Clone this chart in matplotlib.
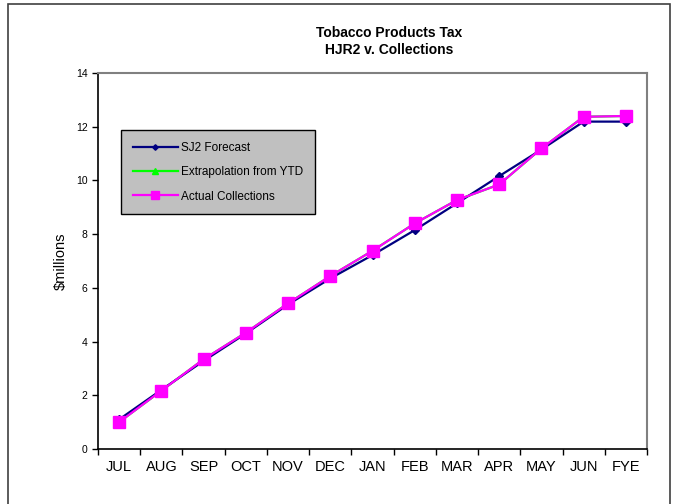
import matplotlib
matplotlib.use("Agg")
import matplotlib.pyplot as plt
from matplotlib.patches import Rectangle

plt.rcParams['font.family'] = ['Liberation Sans', 'DejaVu Sans']

months = ["JUL", "AUG", "SEP", "OCT", "NOV", "DEC", "JAN", "FEB", "MAR", "APR", "MAY", "JUN", "FYE"]
forecast = [1.10, 2.20, 3.28, 4.30, 5.38, 6.35, 7.22, 8.15, 9.15, 10.16, 11.15, 12.19, 12.19]
extrapolation = [1.00, 2.17, 3.34, 4.33, 5.42, 6.44, 7.38, 8.40, 9.27, 9.85, 11.19, 12.37, 12.40]
actual = [1.00, 2.17, 3.34, 4.33, 5.42, 6.44, 7.38, 8.40, 9.27, 9.85, 11.19, 12.37, 12.40]

fig = plt.figure(figsize=(6.81, 5.04), dpi=100)
ax = fig.add_axes([98/681, 1-449/504, (647-98)/681, (449-73)/504])

x = list(range(len(months)))
ax.plot(x, forecast, color="#000080", lw=1.6, marker="D", ms=4, label="SJ2 Forecast", zorder=3)
ax.plot(x, extrapolation, color="#00FF00", lw=1.6, marker="^", ms=6, label="Extrapolation from YTD", zorder=2)
ax.plot(x, actual, color="#FF00FF", lw=1.6, marker="s", ms=8, label="Actual Collections", zorder=4)

ax.set_xlim(-0.5, len(months) - 0.5)
ax.set_ylim(0, 14)
ax.set_yticks(range(0, 15, 2))
ax.tick_params(axis='y', labelsize=7.5, direction='out', length=4, width=1)
ax.set_xticks([i - 0.5 for i in range(len(months) + 1)])
ax.set_xticklabels([])
ax.set_xticks(x, minor=True)
ax.set_xticklabels(months, minor=True, fontsize=10.5)
ax.tick_params(axis='x', which='major', direction='out', length=4, width=1)
ax.tick_params(axis='x', which='minor', length=0, pad=8)

for s in ['left', 'bottom']:
    ax.spines[s].set_color('black')
    ax.spines[s].set_linewidth(1.2)
for s in ['top', 'right']:
    ax.spines[s].set_color('#808080')
    ax.spines[s].set_linewidth(1.5)

ax.set_ylabel("$millions", fontsize=10.5, labelpad=6)

fig.text(389/681, 1-33/504, "Tobacco Products Tax", ha='center', va='center', fontsize=10, fontweight='bold')
fig.text(389/681, 1-50/504, "HJR2 v. Collections", ha='center', va='center', fontsize=10, fontweight='bold')

leg = ax.legend(loc='upper left', bbox_to_anchor=(121/681, 1-130/504), bbox_transform=fig.transFigure,
                borderaxespad=0, markerscale=0.7,
                fontsize=8.5, frameon=True, fancybox=False, facecolor='#C0C0C0', edgecolor='black',
                framealpha=1, handlelength=3.8, labelspacing=1.05, borderpad=1.0, handletextpad=0.25)
leg.get_frame().set_linewidth(1.0)

fig.patches.append(Rectangle((8/681, -0.05), (670-8)/681, 1-4/504+0.05, transform=fig.transFigure,
                             fill=False, edgecolor='#404040', lw=1.2))

fig.savefig("out.png", dpi=100)
